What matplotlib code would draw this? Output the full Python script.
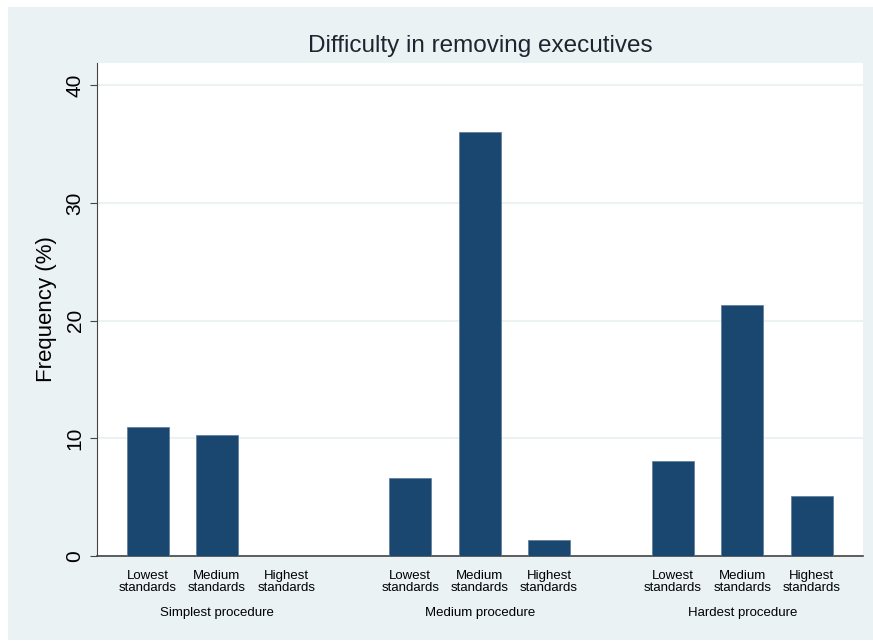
import numpy as np
import matplotlib
matplotlib.use("Agg")
import matplotlib.pyplot as plt
from matplotlib.patches import Rectangle

# data
groups = ['Simplest procedure', 'Medium procedure', 'Hardest procedure']
standards = ['Lowest\nstandards', 'Medium\nstandards', 'Highest\nstandards']
simplest = [11.0, 10.3, 0.0]
medium = [6.6, 36.0, 1.4]
hardest = [8.1, 21.3, 5.1]
yticks = [0, 10, 20, 30, 40]

plt.rcParams['font.family'] = ['Liberation Sans', 'DejaVu Sans']

bg = '#eaf2f3'
bar_col = '#1a476f'
W, H = 873, 641

fig = plt.figure(figsize=(W / 100, H / 100), dpi=100)
fig.patch.set_facecolor('white')
fig.patches.append(Rectangle((8 / W, 1 / H), (W - 8) / W, (H - 8) / H,
                             transform=fig.transFigure, facecolor=bg,
                             edgecolor='none', zorder=-10))

# axes placement in pixels
left, right, top, bottom = 97, 863, 63, 556
ax = fig.add_axes([left / W, 1 - bottom / H, (right - left) / W, (bottom - top) / H])
ax.set_facecolor('white')

group_step = 3.79
vals = [simplest, medium, hardest]
xpos = []
for g, v in enumerate(vals):
    x = g * group_step + np.arange(3)
    xpos.append(x)
    ax.bar(x, v, width=0.605, color=bar_col, edgecolor='#5a7a98', linewidth=0.5, zorder=3)

ax.set_xlim(-0.73, 2 * group_step + 2 + 0.74)
ax.set_ylim(0, 41.9)
ax.set_yticks(yticks)
ax.set_yticklabels([str(t) for t in yticks], rotation=90, va='center', fontsize=15)
ax.yaxis.grid(True, color=bg, linewidth=1.5, zorder=0)
ax.set_axisbelow(True)

for s in ['top', 'right']:
    ax.spines[s].set_visible(False)
ax.spines['left'].set_color('#444444')
ax.spines['bottom'].set_color('#444444')
ax.spines['bottom'].set_linewidth(1.2)
ax.tick_params(axis='y', length=5, color='#444444', pad=4)

allx = np.concatenate(xpos)
ax.set_xticks(allx)
ax.set_xticklabels(standards * 3, fontsize=9.5, linespacing=1.0)
ax.tick_params(axis='x', length=0, pad=10)

for g, name in enumerate(groups):
    ax.text(xpos[g][1], -0.116, name, transform=ax.get_xaxis_transform(),
            ha='center', va='center', fontsize=9.5)

ax.set_ylabel('Frequency (%)', fontsize=16, labelpad=6)
fig.text((left + right) / 2 / W, 1 - 46 / H, 'Difficulty in removing executives',
         ha='center', va='center', fontsize=17.5, color='#1e2430')

fig.savefig('out.png', dpi=100, facecolor=fig.get_facecolor())
